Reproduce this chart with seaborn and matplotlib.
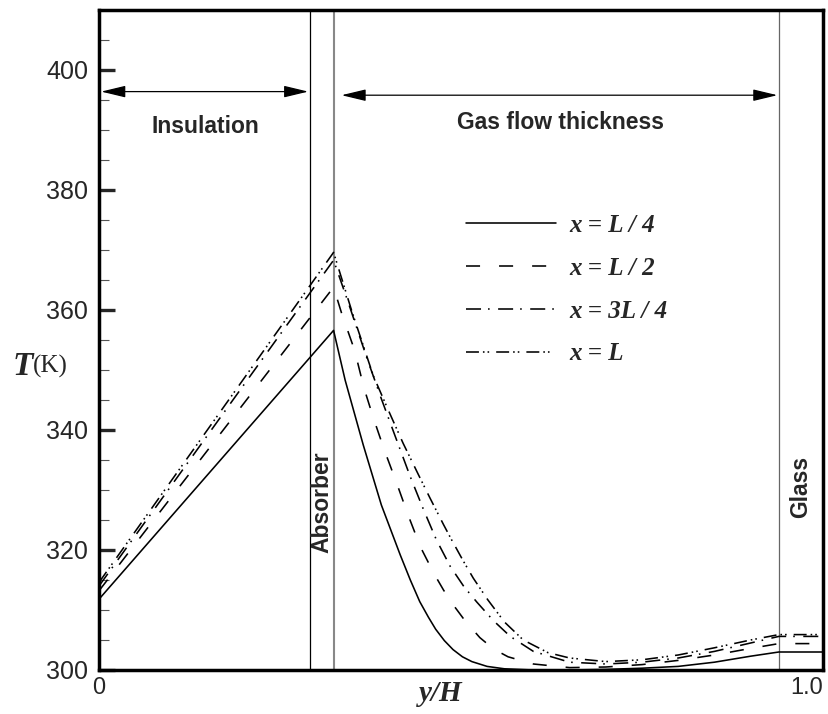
import numpy as np
import pandas as pd
import matplotlib
matplotlib.use("Agg")
import matplotlib.pyplot as plt
import seaborn as sns
from matplotlib.ticker import MultipleLocator

# Temperature profiles across the collector depth (y/H) at four stations
y_L4 = [0.0, 0.324, 0.340, 0.365, 0.390, 0.416, 0.430, 0.443, 0.455, 0.465,
        0.477, 0.489, 0.502, 0.515, 0.536, 0.560, 0.600, 0.650, 0.700, 0.750,
        0.800, 0.850, 0.900, 0.939, 1.0]
T_L4 = [311.8, 356.6, 348.3, 337.5, 327.5, 319.2, 315.0, 311.4, 308.8, 306.8,
        304.9, 303.4, 302.2, 301.4, 300.6, 300.2, 300.0, 300.0, 300.1, 300.3,
        300.6, 301.3, 302.3, 303.0, 303.0]

y_L2 = [0.0, 0.324, 0.335, 0.353, 0.366, 0.379, 0.394, 0.411, 0.427, 0.444,
        0.463, 0.476, 0.489, 0.505, 0.526, 0.545, 0.565, 0.600, 0.650, 0.700,
        0.750, 0.800, 0.850, 0.900, 0.939, 1.0]
T_L2 = [313.2, 363.8, 359.5, 353.3, 347.0, 342.0, 336.7, 331.2, 325.8, 320.5,
        316.0, 313.3, 310.9, 308.3, 305.4, 303.5, 302.2, 301.0, 300.4, 300.5,
        300.9, 301.6, 302.5, 303.6, 304.4, 304.4]

y_3L4 = [0.0, 0.324, 0.345, 0.370, 0.390, 0.409, 0.430, 0.448, 0.466, 0.485,
         0.504, 0.522, 0.545, 0.568, 0.600, 0.650, 0.700, 0.750, 0.800, 0.850,
         0.900, 0.939, 1.0]
T_3L4 = [314.0, 368.3, 361.0, 352.0, 345.2, 339.0, 332.2, 326.8, 321.7, 317.3,
         313.9, 311.3, 308.2, 305.6, 303.1, 301.3, 301.0, 301.3, 302.0, 303.1,
         304.5, 305.6, 305.6]

y_L = [0.0, 0.324, 0.350, 0.379, 0.400, 0.420, 0.441, 0.457, 0.476, 0.487,
       0.503, 0.517, 0.537, 0.560, 0.586, 0.620, 0.650, 0.700, 0.750, 0.800,
       0.850, 0.900, 0.939, 1.0]
T_L = [314.6, 369.6, 359.5, 349.0, 343.2, 337.8, 332.6, 328.7, 324.2, 321.7,
       318.2, 315.3, 311.7, 308.0, 305.0, 302.9, 302.0, 301.4, 301.7, 302.5,
       303.7, 305.0, 305.9, 305.9]

labels = ["x = L / 4", "x = L / 2", "x = 3L / 4", "x = L"]

# Layer boundaries (y/H)
absorber_bounds = [0.292, 0.324]
glass_y = 0.939

sns.set_style("white")
plt.rcParams["font.family"] = ["Liberation Sans", "DejaVu Sans"]

fig = plt.figure(figsize=(8.29, 7.14), dpi=100)
ax = fig.add_axes([99 / 829, 44 / 714, 724 / 829, 660 / 714])

styles = [
    "-",
    (0, (8.8, 11.9)),
    (0, (9.4, 4.4, 1.0, 5.3)),
    (0, (8.1, 2.5, 1.0, 1.9, 1.0, 4.4)),
]
series = [(y_L4, T_L4), (y_L2, T_L2), (y_3L4, T_3L4), (y_L, T_L)]

handles = []
for (yy, TT), ls, lab in zip(series, styles, labels):
    df = pd.DataFrame({"y/H": yy, "T": TT})
    sns.lineplot(data=df, x="y/H", y="T", ax=ax, color="black", lw=1.15,
                 linestyle=ls, sort=False, estimator=None)
    handles.append(ax.lines[-1])

# Layer boundary lines
ax.axvline(absorber_bounds[0], color="black", lw=0.9, zorder=1)
ax.axvline(absorber_bounds[1], color="#888888", lw=1.5, zorder=1)
ax.axvline(glass_y, color="#666666", lw=0.9, zorder=1)

ax.set_xlim(0, 1.0)
ax.set_ylim(300, 410)

# Thickness arrows
arrow_kw = dict(arrowstyle="<|-|>,head_length=0.75,head_width=0.18",
                mutation_scale=20, color="black", lw=0.9,
                shrinkA=0, shrinkB=0)
ax.annotate("", xy=(0.003, 396.4), xytext=(0.289, 396.4), arrowprops=arrow_kw)
ax.annotate("", xy=(0.335, 395.8), xytext=(0.937, 395.8), arrowprops=arrow_kw)

ax.text(0.147, 390.5, "Insulation", fontsize=16.5, fontweight="bold",
        ha="center", va="center")
ax.text(0.638, 391.2, "Gas flow thickness", fontsize=16.5, fontweight="bold",
        ha="center", va="center")
ax.text(0.3085, 328.0, "Absorber", fontsize=16.5, fontweight="bold",
        rotation=90, ha="center", va="center")
ax.text(0.969, 330.5, "Glass", fontsize=16.5, fontweight="bold",
        rotation=90, ha="center", va="center")

# Legend
leg = ax.legend(handles, labels, loc="upper left",
                bbox_to_anchor=(0.476, 0.725), frameon=False,
                handlelength=3.6, handletextpad=0.52, labelspacing=0.79,
                prop=dict(family="Liberation Serif", weight="bold",
                          style="italic", size=18))

# Axis frame and ticks
for s in ax.spines.values():
    s.set_linewidth(2.5)
    s.set_color("black")
ax.yaxis.set_major_locator(MultipleLocator(20))
ax.yaxis.set_minor_locator(MultipleLocator(5))
ax.tick_params(axis="y", which="major", direction="in", length=11.5,
               width=2.4, labelsize=18, pad=8, left=True)
ax.tick_params(axis="y", which="minor", direction="in", length=7,
               width=0.8, color="#555555", left=True)
ax.set_xticks([0, 1.0])
ax.set_xticklabels(["0", "1.0"])
ax.tick_params(axis="x", which="both", length=0, labelsize=17, pad=5)
ax.get_xticklabels()[1].set_horizontalalignment("right")
ax.set_yticks([300, 320, 340, 360, 380, 400])
ax.set_yticklabels(["300", "320", "340", "360", "380", "400"])

ax.set_xlabel("")
ax.set_ylabel("")
ax.text(0.4715, -0.036, "y/H", transform=ax.transAxes, fontsize=21,
        family="Liberation Serif", fontweight="bold", style="italic",
        ha="center", va="center")
ax.text(-0.091, 0.4606, "T", transform=ax.transAxes, fontsize=24,
        family="Liberation Serif", fontweight="bold", style="italic",
        ha="right", va="center")
ax.text(-0.091, 0.4606, "(K)", transform=ax.transAxes, fontsize=18,
        family="Liberation Serif", ha="left", va="center")

fig.savefig("out.png", dpi=100)
